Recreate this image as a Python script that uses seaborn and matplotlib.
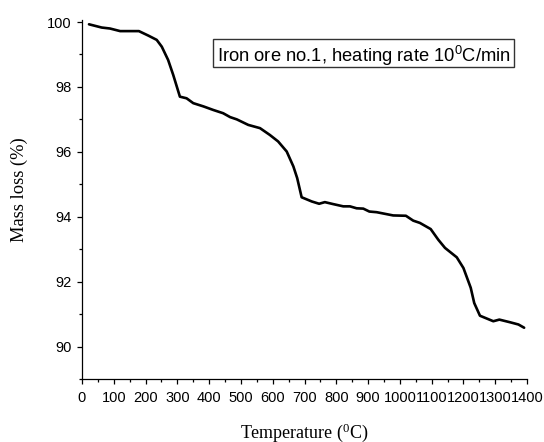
import matplotlib
matplotlib.use("Agg")
import matplotlib.pyplot as plt
from matplotlib.patches import Rectangle
from matplotlib.ticker import MultipleLocator
import seaborn as sns
import pandas as pd

temperature = [22, 62, 88, 120, 179, 209, 235, 251, 271, 287, 308, 329, 350, 382, 413,
               444, 466, 487, 523, 560, 591, 617, 644, 665, 677, 691, 723, 746, 764,
               790, 822, 843, 864, 885, 904, 927, 979, 1019, 1042, 1063, 1097, 1121,
               1142, 1179, 1200, 1223, 1234, 1252, 1294, 1313, 1346, 1373, 1391]
mass = [99.93, 99.83, 99.80, 99.72, 99.72, 99.58, 99.45, 99.24, 98.83, 98.37, 97.70,
        97.65, 97.50, 97.40, 97.29, 97.19, 97.07, 97.00, 96.83, 96.73, 96.52, 96.32,
        96.01, 95.55, 95.19, 94.60, 94.47, 94.40, 94.45, 94.39, 94.32, 94.32, 94.26,
        94.25, 94.16, 94.14, 94.04, 94.03, 93.88, 93.81, 93.62, 93.29, 93.04, 92.75,
        92.42, 91.81, 91.34, 90.95, 90.78, 90.83, 90.75, 90.68, 90.58]
x_ticks = list(range(0, 1401, 100))
y_ticks = [90, 92, 94, 96, 98, 100]
annotation = "Iron ore no.1, heating rate 10$^0$C/min"
x_label = "Temperature ($^0$C)"
y_label = "Mass loss (%)"

sns.set_theme(style="ticks")
plt.rcParams["font.family"] = ["Liberation Sans", "DejaVu Sans"]
plt.rcParams["mathtext.default"] = "regular"

df = pd.DataFrame({"T": temperature, "M": mass})

fig = plt.figure(figsize=(5.44, 4.42), dpi=100)
W, H = 544, 442
ax = fig.add_axes([82 / W, 1 - 379 / H, 445 / W, (379 - 20.4) / H])

sns.lineplot(data=df, x="T", y="M", ax=ax, color="black", linewidth=1.9,
             estimator=None, sort=False)

ax.set_xlim(0, 1400)
ax.set_ylim(89, 100.05)
ax.set_xticks(x_ticks)
ax.set_xticklabels([str(t) for t in x_ticks])
ax.set_yticks(y_ticks)
ax.set_yticklabels([str(t) for t in y_ticks])
ax.xaxis.set_minor_locator(MultipleLocator(50))
ax.yaxis.set_minor_locator(MultipleLocator(1))
ax.tick_params(which="major", direction="out", length=3.5, width=0.9,
               labelsize=10.5, color="black", labelcolor="black")
ax.tick_params(axis="x", which="major", pad=5)
ax.tick_params(axis="y", which="major", pad=4)
ax.tick_params(which="minor", direction="out", length=2, width=0.9, color="black")
for s in ["top", "right"]:
    ax.spines[s].set_visible(False)
for s in ["left", "bottom"]:
    ax.spines[s].set_color("black")
    ax.spines[s].set_linewidth(0.9)

serif = ["Liberation Serif", "DejaVu Serif"]
ax.set_xlabel(x_label, fontsize=13, family=serif, color="black")
ax.set_ylabel(y_label, fontsize=13.3, family=serif, color="black")
ax.xaxis.set_label_coords((304.5 - 82) / 445, (379 - 421) / 358.6)
ax.yaxis.set_label_coords((28 - 82) / 445, (379 - 189.5) / 358.6)

fig.add_artist(Rectangle((212.7 / W, 1 - 67 / H), 301.3 / W, 27.7 / H,
                         transform=fig.transFigure, facecolor="white",
                         edgecolor="#333333", linewidth=1.0, zorder=5))
fig.text(216.7 / W, 1 - 61.7 / H, annotation, fontsize=13.2, ha="left",
         va="baseline", color="black", zorder=6)

fig.savefig("out.png", dpi=100)
